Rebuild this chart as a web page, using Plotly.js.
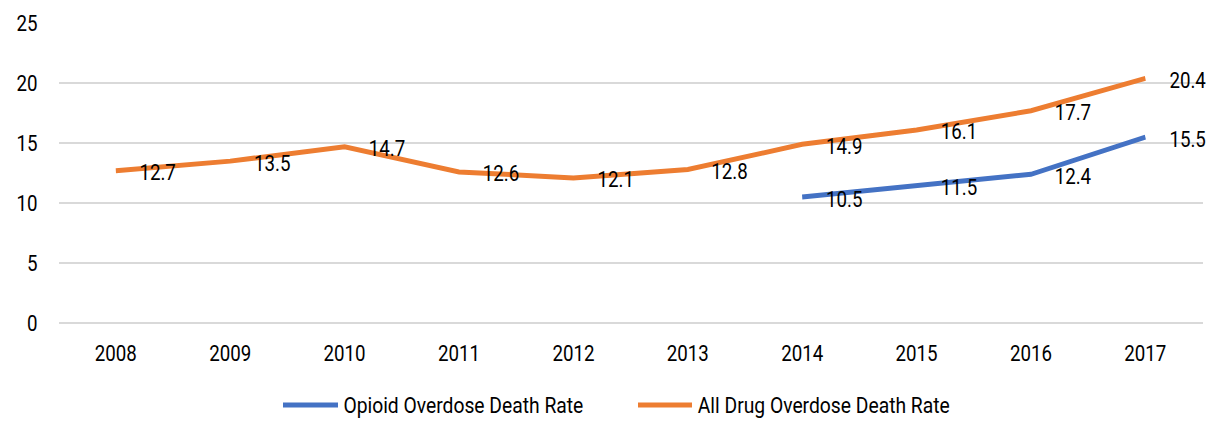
<!DOCTYPE html>
<html>
<head>
<meta charset="utf-8">
<script src="https://cdn.plot.ly/plotly-3.0.1.min.js"></script>
<style>
html,body{margin:0;padding:0;background:#fff;overflow:hidden;width:1217px;height:424px;}
#chart{width:1432px;height:424px;transform-origin:0 0;}
</style>
</head>
<body>
<div id="chart"></div>
<script>
// ---- data ----
const years = ['2008','2009','2010','2011','2012','2013','2014','2015','2016','2017'];
const opioidRate = [null,null,null,null,null,null,10.5,11.5,12.4,15.5];
const allDrugRate = [12.7,13.5,14.7,12.6,12.1,12.8,14.9,16.1,17.7,20.4];
const yTicks = [0,5,10,15,20,25];
const seriesNames = ['Opioid Overdose Death Rate', 'All Drug Overdose Death Rate'];

// ---- styling / geometry ----
const TARGET_W = 1217, RENDER_W = 1432, H = 424;
const SX = TARGET_W / RENDER_W;            // horizontal condensing of the whole drawing
document.getElementById('chart').style.transform = 'scaleX(' + SX + ')';
const M = {l: 69, r: 17, t: 23, b: 101};
const plotW = RENDER_W - M.l - M.r, plotH = H - M.t - M.b;
const FONT = 'Roboto, "Open Sans", sans-serif';
const FS = 22;
const LEG_FS = 22.7;
const colors = ['#4472C4', '#ED7D31'];
const series = [opioidRate, allDrugRate];

const traces = series.map((s, k) => ({
  x: years, y: s, name: seriesNames[k], type: 'scatter', mode: 'lines',
  line: {color: colors[k], width: 5}, connectgaps: false, hoverinfo: 'skip', showlegend: false
}));

// data labels (right of each point)
const annotations = [];
series.forEach(s => {
  s.forEach((v, i) => {
    if (v === null) return;
    annotations.push({x: i, y: v, xref: 'x', yref: 'y', text: v.toFixed(1),
      showarrow: false, xanchor: 'left', yanchor: 'middle', xshift: 26, yshift: -2,
      font: {family: FONT, size: FS, color: '#000'}});
  });
});

// legend (drawn below the plot, in target-pixel positions)
const pxToPaperX = x => (x / SX - M.l) / plotW;
const pxToPaperY = y => (H - M.b - y) / plotH;
const legendItems = [{x0: 283, x1: 338, tx: 342}, {x0: 638, x1: 692, tx: 696}];
const legendY = 405;
const shapes = [];
legendItems.forEach((it, k) => {
  shapes.push({type: 'line', xref: 'paper', yref: 'paper',
    x0: pxToPaperX(it.x0), x1: pxToPaperX(it.x1), y0: pxToPaperY(legendY), y1: pxToPaperY(legendY),
    line: {color: colors[k], width: 5}});
  annotations.push({xref: 'paper', yref: 'paper', x: pxToPaperX(it.tx), y: pxToPaperY(legendY),
    text: seriesNames[k], showarrow: false, xanchor: 'left', yanchor: 'middle',
    font: {family: FONT, size: LEG_FS, color: '#000'}});
});

const layout = {
  width: RENDER_W, height: H,
  margin: M,
  paper_bgcolor: '#fff', plot_bgcolor: '#fff',
  font: {family: FONT, size: FS, color: '#000'},
  showlegend: false,
  xaxis: {type: 'category', range: [-0.5, 9.5], showgrid: false, zeroline: false,
    showline: false, ticks: '', ticklabelstandoff: 15, fixedrange: true},
  yaxis: {range: [0, 25.02], tickvals: yTicks, ticktext: yTicks.map(String), showgrid: true,
    gridcolor: '#d9d9d9', gridwidth: 1.5, zeroline: true, zerolinecolor: '#d9d9d9', zerolinewidth: 1.5,
    showline: false, ticks: '', ticklabelstandoff: 24, fixedrange: true},
  shapes: shapes,
  annotations: annotations
};

Plotly.newPlot('chart', traces, layout, {displayModeBar: false, staticPlot: true});
</script>
</body>
</html>
